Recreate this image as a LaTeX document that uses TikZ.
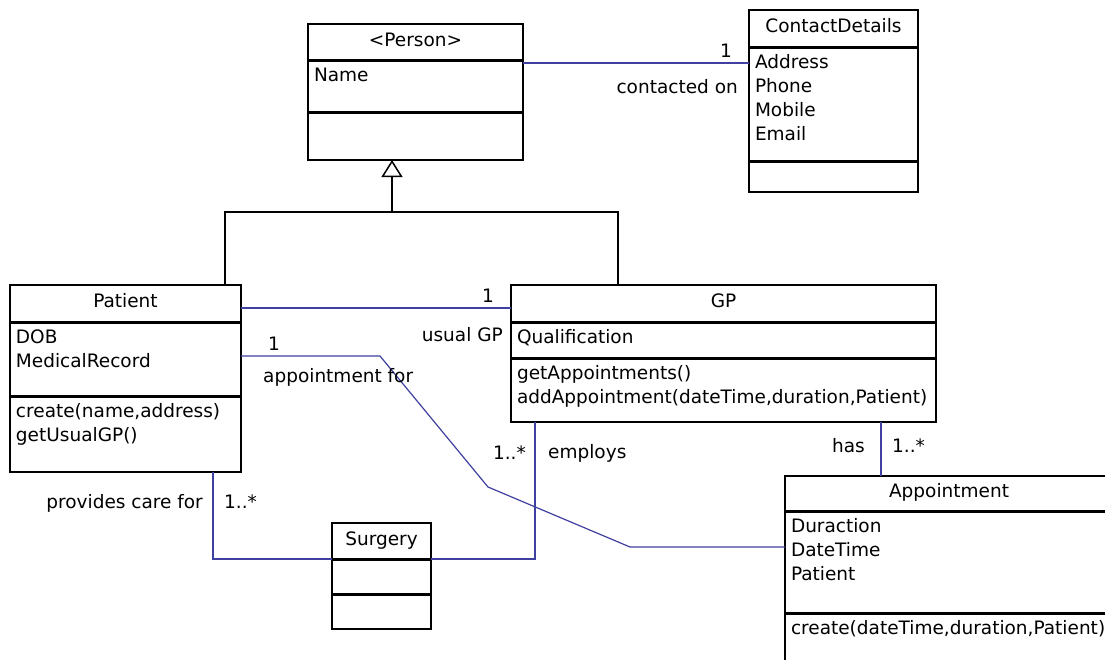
\documentclass[tikz,border=0pt]{standalone}
\usepackage{fontspec}
\setmainfont{DejaVu Sans}
\usetikzlibrary{arrows.meta,positioning}
\definecolor{assocblue}{HTML}{4040A0}
% compartment text, top aligned
\newcommand{\compbox}[3]{\parbox[c][#2][t]{#1}{\rule{0pt}{21pt}#3}}

\begin{document}
\begin{tikzpicture}[
  x=1pt, y=-1pt,
  every node/.style={font=\fontsize{18.5}{24}\selectfont},
  classhead/.style={draw, line width=1.5pt, outer sep=0pt, inner sep=0pt, anchor=north west, text height=13pt, text depth=5pt},
  classcomp/.style={draw, line width=1.5pt, outer sep=0pt, inner xsep=6pt, inner ysep=0pt},
  sep/.style={line width=3pt},
  gen/.style={line width=1.5pt},
  assoc/.style={draw=assocblue, line width=1.2pt},
  lbl/.style={inner sep=0pt}
]
\useasboundingbox[fill=white] (0,0) rectangle (1105,659);

% classes
\node[classhead, minimum width=215pt, minimum height=36pt] (personhead) at (308,24) {<Person>};
\node[classcomp, below=0pt of personhead] (personattr) {\compbox{203pt}{52pt}{Name}};
\node[classcomp, below=0pt of personattr] (personops) {\compbox{203pt}{48pt}{}};

\node[classhead, minimum width=169pt, minimum height=37pt] (contacthead) at (749,10) {ContactDetails};
\node[classcomp, below=0pt of contacthead] (contactattr) {\compbox{157pt}{114pt}{Address\\Phone\\Mobile\\Email}};
\node[classcomp, below=0pt of contactattr] (contactops) {\compbox{157pt}{31pt}{}};

\node[classhead, minimum width=231pt, minimum height=37pt] (patienthead) at (10,285) {Patient};
\node[classcomp, below=0pt of patienthead] (patientattr) {\compbox{219pt}{74pt}{DOB\\MedicalRecord}};
\node[classcomp, below=0pt of patientattr] (patientops) {\compbox{219pt}{76pt}{create(name,address)\\getUsualGP()}};

\node[classhead, minimum width=425pt, minimum height=37pt] (gphead) at (511,285) {GP};
\node[classcomp, below=0pt of gphead] (gpattr) {\compbox{413pt}{36pt}{Qualification}};
\node[classcomp, below=0pt of gpattr] (gpops) {\compbox{413pt}{64pt}{getAppointments()\\addAppointment(dateTime,duration,Patient)}};

\node[classhead, minimum width=328pt, minimum height=35pt] (appthead) at (785,476) {Appointment};
\node[classcomp, below=0pt of appthead] (apptattr) {\compbox{316pt}{102pt}{Duraction\\DateTime\\Patient}};
\node[classcomp, below=0pt of apptattr] (apptops) {\compbox{316pt}{70pt}{create(dateTime,duration,Patient)}};

\node[classhead, minimum width=99pt, minimum height=36pt] (surgeryhead) at (332,523) {Surgery};
\node[classcomp, below=0pt of surgeryhead] (surgeryattr) {\compbox{87pt}{35pt}{}};
\node[classcomp, below=0pt of surgeryattr] (surgeryops) {\compbox{87pt}{35pt}{}};

\foreach \cls in {person,contact,patient,gp,appt,surgery}
  \draw[sep] (\cls head.south west) -- (\cls head.south east)
             (\cls attr.south west) -- (\cls attr.south east);

% generalisation
\coordinate (genjoin) at (392,212);
\draw[gen] ([xshift=215pt]patienthead.north west) |- (genjoin) -| ([xshift=107pt]gphead.north west);
\draw[gen, -{Triangle[open, length=17pt, width=21pt]}] (genjoin) -- (genjoin |- personops.south);

% associations
\coordinate (pc) at ([yshift=-3pt]personattr.north east);
\draw[assoc] (pc) -- (pc -| contactattr.west);
\node[lbl, anchor=base east] (contactmult) at (732,57) {1};
\node[lbl, anchor=base east] (contactrole) at (738,93) {contacted on};

\draw[assoc] ([yshift=-4.5pt]patienthead.east) -- ([yshift=-4.5pt]gphead.west);
\node[lbl, anchor=base east] (gpmult) at (494,302) {1};
\node[lbl, anchor=base east] (gprole) at (503,341) {usual GP};

\draw[assoc] ([yshift=3pt]patientattr.east) -- ++(139,0) -- ++(108,131) -- ++(142,60) coordinate (apbend) -- (apbend -| apptattr.west);
\node[lbl, anchor=base west] (patmult) at (268,350) {1};
\node[lbl, anchor=base west] (patrole) at (263,382) {appointment for};

\draw[assoc] ([xshift=24pt]gpops.south west) |- (surgeryhead.south east);
\node[lbl, anchor=base east] (empmult) at (526,459) {1..*};
\node[lbl, anchor=base west] (emprole) at (548,458) {employs};

\draw[assoc] ([xshift=203pt]patientops.south west) |- (surgeryhead.south west);
\node[lbl, anchor=base east] (carerole) at (203,508) {provides care for};
\node[lbl, anchor=base west] (caremult) at (224,508) {1..*};

\coordinate (ga) at ([xshift=370pt]gpops.south west);
\draw[assoc] (ga) -- (ga |- appthead.north);
\node[lbl, anchor=base east] (hasrole) at (865,452) {has};
\node[lbl, anchor=base west] (hasmult) at (892,452) {1..*};
\end{tikzpicture}
\end{document}
